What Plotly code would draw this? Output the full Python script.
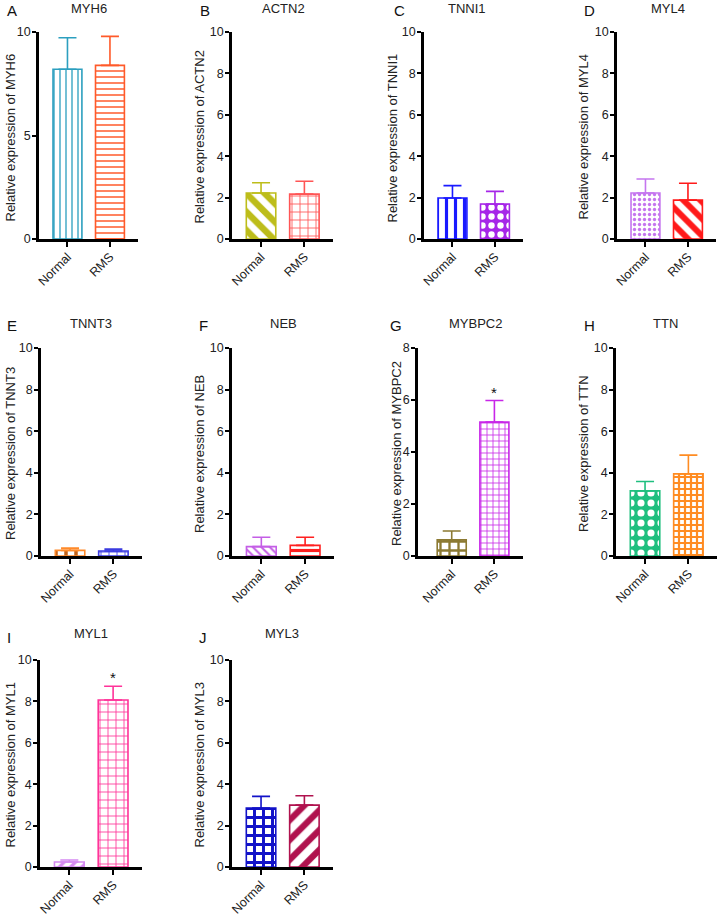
import plotly.graph_objects as go

W, H = 720, 916

genes = ["MYH6", "ACTN2", "TNNI1", "MYL4", "TNNT3", "NEB", "MYBPC2", "TTN", "MYL1", "MYL3"]
letters = ["A", "B", "C", "D", "E", "F", "G", "H", "I", "J"]
groups = ["Normal", "RMS"]
normal_mean = [8.20, 2.22, 1.98, 2.22, 0.27, 0.45, 0.62, 3.13, 0.24, 2.85]
normal_err = [1.52, 0.50, 0.60, 0.68, 0.11, 0.45, 0.34, 0.45, 0.10, 0.56]
rms_mean = [8.39, 2.17, 1.69, 1.88, 0.24, 0.51, 5.15, 3.95, 8.07, 2.99]
rms_err = [1.40, 0.62, 0.61, 0.81, 0.09, 0.39, 0.83, 0.90, 0.66, 0.45]
significant = [False, False, False, False, False, False, True, False, True, False]
y_max = [10, 10, 10, 10, 10, 10, 8, 10, 10, 10]
y_dtick = [5, 2, 2, 2, 2, 2, 2, 2, 2, 2]

# panel plot-area boxes in page pixels: x0, x1, ytop, ybottom
boxes = [
    (39, 138, 32, 239), (232, 333, 32, 239), (424, 523, 32, 239), (617, 716, 32, 239),
    (41, 142, 348, 556), (232, 334, 348, 556), (418, 523, 348, 556), (616, 717, 348, 556),
    (40, 142, 660, 867), (232, 333, 660, 867),
]
xranges = [[-0.67, 1.66]] * 6 + [[-0.79, 1.67]] + [[-0.67, 1.66]] * 3
letter_pos = [(5, 11), (198, 11), (392, 11), (582, 11), (5, 325), (197, 325), (388, 325), (582, 325), (5, 637), (197, 637)]
title_pos = [(89, 8), (283, 8), (467, 8), (668, 8), (91, 323), (283, 323), (475, 323), (665, 323), (91, 633), (282, 633)]
ytitle_x = [10, 199, 392, 583, 10, 199, 396, 583, 10, 199]

# bar styles: (outline color, pattern shape, fg, bg, size, solidity)
styles = [
    [("#2c9fbf", "|", "#2c9fbf", "white", 6, 0.22), ("#ff5a2a", "-", "#ff5a2a", "white", 6, 0.25)],
    [("#bdbd1a", "\\", "#bdbd1a", "white", 13, 0.5), ("#ff5555", "+", "#ff5555", "white", 8, 0.2)],
    [("#1a1aff", "|", "#1a1aff", "white", 9, 0.35), ("#a626e8", ".", "white", "#a626e8", 9, 0.4)],
    [("#c576ef", ".", "#c576ef", "white", 5, 0.35), ("#ff1a1a", "\\", "#ff1a1a", "white", 12, 0.5)],
    [("#ff8a2a", "|", "#c0621a", "white", 10, 0.35), ("#3b3be0", "+", "#3b3be0", "white", 8, 0.2)],
    [("#c45ee6", "\\", "#c45ee6", "white", 6, 0.35), ("#ff2020", "-", "#ff2020", "white", 9, 0.35)],
    [("#8c7a32", "+", "#8c7a32", "white", 9, 0.45), ("#c826e8", "+", "#c826e8", "white", 6, 0.25)],
    [("#1fbf7f", ".", "white", "#1fbf7f", 10, 0.4), ("#ff8c22", "+", "#ff8c22", "white", 6, 0.6)],
    [("#d58af2", "/", "#d58af2", "white", 8, 0.4), ("#ff3399", "+", "#ff3399", "white", 8, 0.2)],
    [("#1212c8", "+", "#1212c8", "white", 9, 0.55), ("#b0124e", "/", "#b0124e", "white", 14, 0.45)],
]


def px(x):
    return x / W


def py(y):
    return 1 - y / H


FONT = "Arial, Liberation Sans, sans-serif"
fig = go.Figure()
annotations = []
layout = {}

for i, g in enumerate(genes):
    k = i + 1
    xa = "x" if k == 1 else f"x{k}"
    ya = "y" if k == 1 else f"y{k}"
    x0, x1, yt, yb = boxes[i]
    for j, (grp, m, e) in enumerate([(groups[0], normal_mean[i], normal_err[i]),
                                      (groups[1], rms_mean[i], rms_err[i])]):
        oc, shp, fg, bg, sz, sol = styles[i][j]
        fig.add_trace(go.Bar(
            x=[grp], y=[m], xaxis=xa, yaxis=ya, width=0.68,
            marker=dict(color=bg, line=dict(color=oc, width=1.6),
                        pattern=dict(shape=shp, fgcolor=fg, bgcolor=bg, size=sz,
                                     solidity=sol, fillmode="replace")),
            error_y=dict(type="data", symmetric=False, array=[e], arrayminus=[0],
                         color=oc, thickness=1.6, width=9),
            showlegend=False, cliponaxis=False, hoverinfo="skip",
        ))
    layout[f"xaxis{k}"] = dict(
        domain=[px(x0), px(x1)], anchor=ya, range=xranges[i],
        showline=True, linecolor="black", linewidth=2.5, ticks="outside",
        ticklen=5, tickwidth=2, tickcolor="black", tickangle=-45,
        ticklabelstandoff=-2,
        tickfont=dict(family=FONT, size=12.5, color="#222"), showgrid=False,
        zeroline=False, automargin=False, fixedrange=True,
    )
    layout[f"yaxis{k}"] = dict(
        domain=[py(yb), py(yt)], anchor=xa, range=[0, y_max[i]],
        dtick=y_dtick[i], tick0=0, showline=True, linecolor="black", linewidth=2.5,
        ticks="outside", ticklen=4, tickwidth=2, tickcolor="black",
        ticklabelstandoff=-1,
        tickfont=dict(family=FONT, size=12.5, color="#222"), showgrid=False,
        zeroline=False, automargin=False, fixedrange=True,
    )
    annotations.append(dict(text=letters[i], x=px(letter_pos[i][0]), y=py(letter_pos[i][1]),
                            xref="paper", yref="paper", showarrow=False, xanchor="left",
                            yanchor="middle", font=dict(family=FONT, size=15, color="#111")))
    annotations.append(dict(text=g, x=px(title_pos[i][0]), y=py(title_pos[i][1]),
                            xref="paper", yref="paper", showarrow=False, xanchor="center",
                            yanchor="middle", font=dict(family=FONT, size=13, color="#222")))
    annotations.append(dict(text=f"Relative expression of {g}", x=px(ytitle_x[i]),
                            y=py((yt + yb) / 2 + 2), xref="paper", yref="paper",
                            showarrow=False, textangle=-90, xanchor="center", yanchor="middle",
                            font=dict(family=FONT, size=13, color="#222")))
    if significant[i]:
        annotations.append(dict(text="*", x=groups[1], y=rms_mean[i] + rms_err[i],
                                xref=xa, yref=ya, showarrow=False, yanchor="bottom", yshift=-2,
                                font=dict(family=FONT, size=15, color="#111")))

fig.update_layout(
    width=W, height=H, margin=dict(l=0, r=0, t=0, b=0),
    paper_bgcolor="white", plot_bgcolor="white", bargap=0.3,
    annotations=annotations, **layout,
)
fig.write_html("out.html", config={"displayModeBar": False},
               post_script="document.body.style.margin='0px';")
